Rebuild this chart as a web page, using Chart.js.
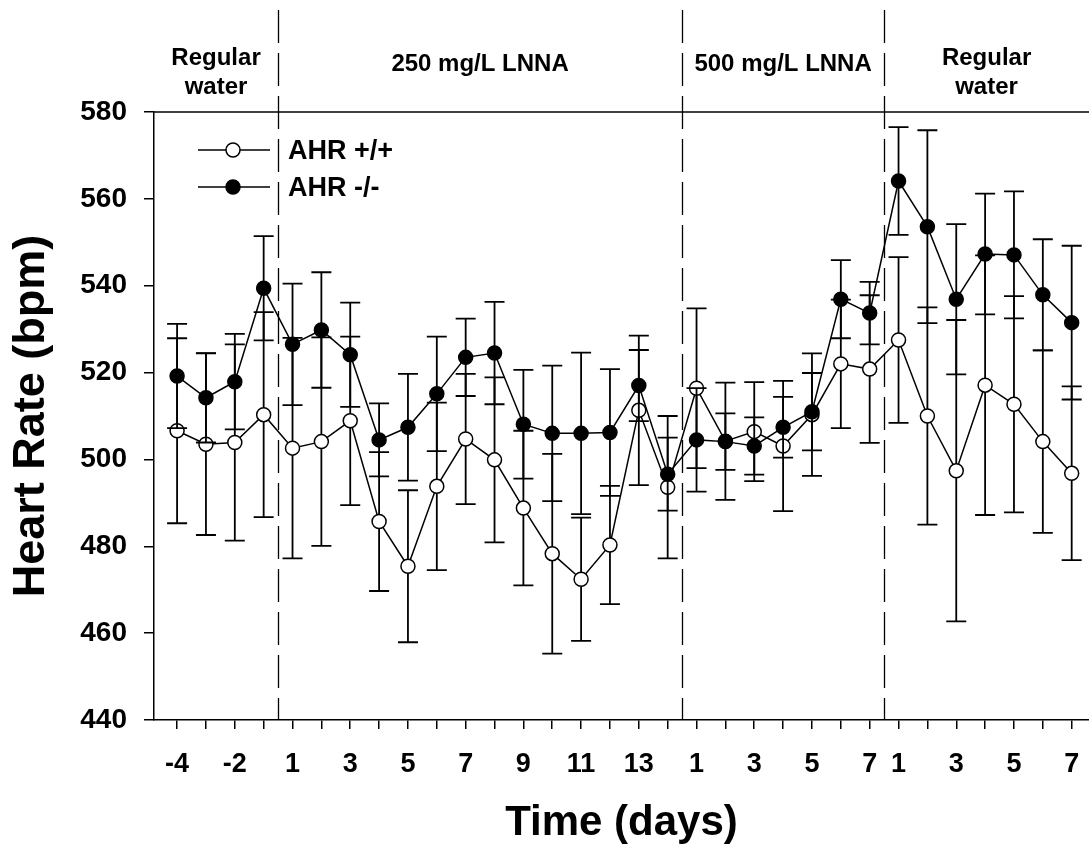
<!DOCTYPE html>
<html>
<head>
<meta charset="utf-8">
<script src="https://cdn.jsdelivr.net/npm/chart.js@4/dist/chart.umd.min.js"></script>
<style>
  html, body { margin: 0; padding: 0; background: #fff; }
  #wrap { width: 1089px; height: 846px; }
</style>
</head>
<body>
<div id="wrap"><canvas id="c" width="1089" height="846"></canvas></div>
<script>
// ---- data ----
const days = [-4,-3,-2,-1, 1,2,3,4,5,6,7,8,9,10,11,12,13,14, 1,2,3,4,5,6,7, 1,2,3,4,5,6,7];
const xTickLabels = ['-4','','-2','', '1','','3','','5','','7','','9','','11','','13','', '1','','3','','5','','7', '1','','3','','5','','7'];
const ahrWT    = [506.6,503.5,503.9,510.3, 502.6,504.1,508.9,485.7,475.4,493.8,504.7,499.9,488.8,478.3,472.4,480.3,511.3,493.6, 516.4,504.2,506.4,503.1,510.3,522.0,520.8, 527.5,510.0,497.4,517.1,512.7,504.1,496.8];
const ahrWTErr = [21.3,20.9,22.6,23.6, 25.4,24.0,19.4,16.0,17.5,19.3,15.0,19.0,17.8,23.0,14.2,13.6,17.2,16.4, 18.4,13.5,11.4,15.0,14.1,14.8,17.0, 19.1,25.0,34.7,29.9,24.9,21.0,20.0];
const ahrKO    = [519.2,514.2,517.9,539.4, 526.5,529.8,524.1,504.5,507.4,515.1,523.5,524.5,508.1,506.0,506.0,506.2,517.0,496.6, 504.5,504.1,503.1,507.4,511.0,536.9,533.7, 564.1,553.6,536.9,547.3,547.1,537.9,531.5];
const ahrKOErr = [12.0,10.3,11.0,12.0, 14.0,13.3,12.0,8.4,12.3,13.2,8.9,11.8,12.5,15.6,18.6,14.6,8.2,8.4, 11.9,6.5,6.6,7.0,8.9,9.0,7.2, 12.4,22.2,17.3,13.9,14.6,12.8,17.7];
const seriesNames = ['AHR +/+', 'AHR -/-'];
const phaseBoundaries = [3.5, 17.5, 24.5];
const phaseLabels = [['Regular','water'], ['250 mg/L LNNA'], ['500 mg/L LNNA'], ['Regular','water']];
const yTitle = 'Heart Rate (bpm)';
const xTitle = 'Time (days)';

const FONT = "'Liberation Sans', Arial, Helvetica, sans-serif";

function pts(arr) { return arr.map((v, i) => ({ x: i, y: v })); }

const overlay = {
  id: 'overlay',
  beforeDatasetsDraw(chart) {
    const { ctx, chartArea, scales: { x } } = chart;
    ctx.save();
    ctx.strokeStyle = '#000';
    ctx.lineWidth = 1.3;
    ctx.setLineDash([33, 10]);
    phaseBoundaries.forEach(b => {
      const px = Math.round(x.getPixelForValue(b)) + 0.5;
      ctx.beginPath();
      ctx.moveTo(px, 10);
      ctx.lineTo(px, chartArea.bottom);
      ctx.stroke();
    });
    ctx.restore();
  },
  beforeDatasetDraw(chart, args) {
    const ds = chart.data.datasets[args.index];
    const ys = chart.scales.y;
    const ctx = chart.ctx;
    ctx.save();
    ctx.strokeStyle = '#000';
    ctx.lineWidth = 1.8;
    args.meta.data.forEach((pt, i) => {
      const v = ds.data[i].y, e = ds.errors[i];
      const t = ys.getPixelForValue(v + e), b = ys.getPixelForValue(v - e);
      ctx.beginPath();
      ctx.moveTo(pt.x, t); ctx.lineTo(pt.x, b);
      ctx.moveTo(pt.x - 10, t); ctx.lineTo(pt.x + 10, t);
      ctx.moveTo(pt.x - 10, b); ctx.lineTo(pt.x + 10, b);
      ctx.stroke();
    });
    ctx.restore();
  },
  afterDraw(chart) {
    const { ctx, chartArea, scales: { x } } = chart;
    ctx.save();
    // top frame line
    ctx.strokeStyle = '#000';
    ctx.lineWidth = 1.5;
    ctx.beginPath();
    ctx.moveTo(chartArea.left, chartArea.top);
    ctx.lineTo(chartArea.right, chartArea.top);
    ctx.stroke();
    // phase headers
    const edges = [chartArea.left, ...phaseBoundaries.map(b => x.getPixelForValue(b)), chartArea.right];
    ctx.fillStyle = '#000';
    ctx.textAlign = 'center';
    ctx.textBaseline = 'middle';
    ctx.font = 'bold 24px ' + FONT;
    phaseLabels.forEach((lines, k) => {
      const cx = (edges[k] + edges[k + 1]) / 2;
      if (lines.length === 1) {
        ctx.fillText(lines[0], cx, 64);
      } else {
        ctx.fillText(lines[0], cx, 58);
        ctx.fillText(lines[1], cx, 87);
      }
    });
    // legend
    const items = [
      { name: seriesNames[0], fill: '#fff', y: 150 },
      { name: seriesNames[1], fill: '#000', y: 187 }
    ];
    items.forEach(it => {
      ctx.lineWidth = 1.5;
      ctx.strokeStyle = '#000';
      ctx.beginPath();
      ctx.moveTo(198, it.y); ctx.lineTo(270, it.y);
      ctx.stroke();
      ctx.beginPath();
      ctx.arc(233, it.y, 7, 0, Math.PI * 2);
      ctx.fillStyle = it.fill;
      ctx.fill();
      ctx.stroke();
      ctx.fillStyle = '#000';
      ctx.textAlign = 'left';
      ctx.font = 'bold 27px ' + FONT;
      ctx.fillText(it.name, 288, it.y + 2);
    });
    ctx.restore();
  }
};

new Chart(document.getElementById('c'), {
  type: 'line',
  data: {
    datasets: [
      {
        label: seriesNames[0], data: pts(ahrWT), errors: ahrWTErr, order: 1,
        borderColor: '#000', borderWidth: 1.5, backgroundColor: '#fff',
        pointRadius: 7, pointBorderWidth: 1.5, pointBackgroundColor: '#fff', pointBorderColor: '#000',
        tension: 0, clip: false
      },
      {
        label: seriesNames[1], data: pts(ahrKO), errors: ahrKOErr, order: 0,
        borderColor: '#000', borderWidth: 1.5, backgroundColor: '#000',
        pointRadius: 7, pointBorderWidth: 1.5, pointBackgroundColor: '#000', pointBorderColor: '#000',
        tension: 0, clip: false
      }
    ]
  },
  options: {
    responsive: false,
    animation: false,
    devicePixelRatio: 1,
    layout: { autoPadding: false, padding: { top: 112, right: 0, left: 0, bottom: 0 } },
    plugins: { legend: { display: false }, tooltip: { enabled: false }, title: { display: false } },
    scales: {
      x: {
        type: 'linear',
        min: -0.8, max: 31.6,
        afterBuildTicks: s => { s.ticks = days.map((d, i) => ({ value: i })); },
        afterFit: s => { s.height = 126; s.paddingLeft = 0; s.paddingRight = 0; },
        grid: { display: true, drawOnChartArea: false, drawTicks: true, tickLength: 9, color: '#000', lineWidth: 1.5 },
        border: { display: true, color: '#000', width: 1.5 },
        ticks: {
          autoSkip: false, maxRotation: 0, minRotation: 0, padding: 19,
          color: '#000', font: { family: FONT, size: 27, weight: 'bold' },
          callback: (v, i) => xTickLabels[i]
        },
        title: {
          display: true, text: xTitle, color: '#000',
          font: { family: FONT, size: 42, weight: 'bold', lineHeight: 1 },
          padding: { top: 0, bottom: 2 }
        }
      },
      y: {
        min: 440, max: 580,
        afterFit: s => { s.width = 154; s.paddingTop = 0; s.paddingBottom = 0; },
        grid: { display: true, drawOnChartArea: false, drawTicks: true, tickLength: 10, color: '#000', lineWidth: 1.5 },
        border: { display: true, color: '#000', width: 1.5 },
        ticks: {
          stepSize: 20, padding: 17, color: '#000',
          font: { family: FONT, size: 28, weight: 'bold' }
        },
        title: {
          display: true, text: yTitle, color: '#000',
          font: { family: FONT, size: 45, weight: 'bold', lineHeight: 1 },
          padding: { top: 9, bottom: 0 }
        }
      }
    }
  },
  plugins: [overlay]
});
</script>
</body>
</html>
